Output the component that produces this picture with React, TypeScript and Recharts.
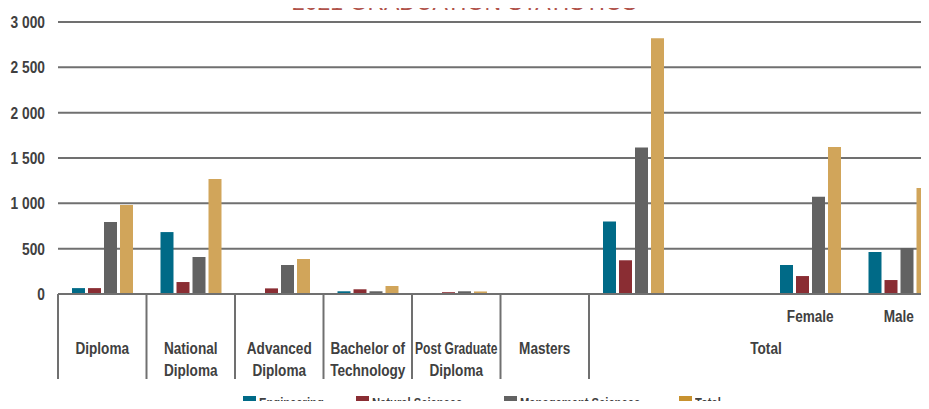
import React from "react";
import { BarChart, Bar, XAxis, YAxis, CartesianGrid } from "recharts";

// ---- data ----
const subLabels = ["", "", "", "", "", "", "", "", "Female", "Male"];
const groupLabels = [
  "Diploma",
  "National\nDiploma",
  "Advanced\nDiploma",
  "Bachelor of\nTechnology",
  "Post Graduate\nDiploma",
  "Masters",
  "Total",
  "Total",
  "Total",
  "Total",
];
const engineering = [65, 683, 0, 30, 0, 0, 800, 0, 320, 463];
const naturalSciences = [65, 132, 62, 52, 20, 0, 372, 0, 198, 154];
const managementSciences = [794, 408, 320, 30, 30, 0, 1615, 0, 1072, 507];
const totals = [981, 1268, 386, 88, 28, 0, 2822, 0, 1620, 1170];
const yTicks = [0, 500, 1000, 1500, 2000, 2500, 3000];
const seriesNames = ["Engineering", "Natural Sciences", "Management Sciences", "Total"];
const title = "2021 GRADUATION STATISTICS";

const data = subLabels.map((s, i) => ({
  key: String(i),
  sub: s,
  group: groupLabels[i],
  eng: engineering[i],
  nat: naturalSciences[i],
  mgmt: managementSciences[i],
  total: totals[i],
}));

// ---- style / layout ----
const FONT = "'Liberation Sans', Arial, sans-serif";
const SX = 0.8; // horizontal squeeze to mimic a condensed face
const SX_Y = 0.86;
const FIT: Record<string, number> = { "Post Graduate": 0.71 };
const TEXT = "#404040";
const GRID = "#707070";
const COLORS = ["#006a87", "#8a2d33", "#626262", "#d1a55a"];
const LEGEND_COLORS = ["#006a87", "#8a2d33", "#626262", "#c8922f"];
const LEGEND_X = [243, 356, 504, 679];
const CHART_W = 960;
const CHART_H = 385;
const MARGIN = { top: 22, right: 17, bottom: 0, left: 0 };
const Y_W = 58;
const X_H = 91;
const PLOT_W = CHART_W - MARGIN.left - MARGIN.right - Y_W;
const STEP = PLOT_W / data.length;

const fmt = (v: number) => String(v).replace(/\B(?=(\d{3})+(?!\d))/g, " ");

const CText = ({ x, y, anchor = "middle", size = 17, sx = SX, children }: any) => (
  <text
    transform={`translate(${x},${y}) scale(${sx},1)`}
    x={0}
    y={0}
    textAnchor={anchor}
    fill={TEXT}
    fontFamily={FONT}
    fontWeight="bold"
    fontSize={size}
  >
    {children}
  </text>
);

const XTick = (props: any) => {
  const { x, y, index } = props;
  const i = index as number;
  const g = groupLabels[i];
  const first = i === 0 || groupLabels[i - 1] !== g;
  let count = 0;
  if (first) {
    let j = i;
    while (j < groupLabels.length && groupLabels[j] === g) {
      count++;
      j++;
    }
  }
  const lines = g.split("\n");
  const cx = x + ((count - 1) * STEP) / 2;
  return (
    <g>
      {subLabels[i] && <CText x={x} y={y + 28}>{subLabels[i]}</CText>}
      {first && (
        <line x1={x - STEP / 2} x2={x - STEP / 2} y1={y} y2={y + 85} stroke={GRID} strokeWidth={2} />
      )}
      {first &&
        lines.map((l, k) => (
          <CText key={k} x={cx} y={y + 60 + k * 22} sx={FIT[l] ?? SX}>
            {l}
          </CText>
        ))}
    </g>
  );
};

const YTick = (props: any) => {
  const { x, y, payload } = props;
  return (
    <CText x={x} y={y + 6} anchor="end" size={16} sx={SX_Y}>
      {fmt(payload.value)}
    </CText>
  );
};

export default function App() {
  return (
    <div style={{ position: "relative", width: 929, height: 409, overflow: "hidden", margin: -8, background: "#fff" }}>
      <div style={{ position: "absolute", left: 0, top: 0 }}>
        <BarChart width={CHART_W} height={CHART_H} data={data} margin={MARGIN} barSize={13} barGap={3}>
          <CartesianGrid vertical={false} stroke={GRID} strokeWidth={2} />
          <XAxis
            dataKey="key"
            height={X_H}
            interval={0}
            tickLine={false}
            tickSize={0}
            tickMargin={0}
            axisLine={{ stroke: GRID, strokeWidth: 2 }}
            tick={<XTick />}
          />
          <YAxis
            width={Y_W}
            domain={[0, 3000]}
            ticks={yTicks}
            axisLine={false}
            tickLine={false}
            tickSize={0}
            tickMargin={13}
            tick={<YTick />}
          />
          <Bar dataKey="eng" name={seriesNames[0]} fill={COLORS[0]} isAnimationActive={false} />
          <Bar dataKey="nat" name={seriesNames[1]} fill={COLORS[1]} isAnimationActive={false} />
          <Bar dataKey="mgmt" name={seriesNames[2]} fill={COLORS[2]} isAnimationActive={false} />
          <Bar dataKey="total" name={seriesNames[3]} fill={COLORS[3]} isAnimationActive={false} />
        </BarChart>
      </div>
      {seriesNames.map((n, i) => (
        <div
          key={n}
          style={{
            position: "absolute",
            left: LEGEND_X[i],
            top: 396,
            zIndex: 5,
            display: "flex",
            alignItems: "flex-start",
            fontFamily: FONT,
            fontWeight: "bold",
            fontSize: 14,
            lineHeight: "14px",
            color: TEXT,
            whiteSpace: "nowrap",
          }}
        >
          <span style={{ display: "inline-block", width: 13, height: 13, background: LEGEND_COLORS[i], marginRight: 3 }} />
          <span style={{ display: "inline-block", transform: `scaleX(${SX})`, transformOrigin: "left top" }}>{n}</span>
        </div>
      ))}
      <div
        style={{
          position: "absolute",
          left: 0,
          width: 929,
          top: -9,
          height: 23,
          zIndex: 5,
          textAlign: "center",
          fontFamily: FONT,
          fontSize: 23,
          lineHeight: "23px",
          color: "#b0524a",
          whiteSpace: "nowrap",
        }}
      >
        {title}
      </div>
    </div>
  );
}
